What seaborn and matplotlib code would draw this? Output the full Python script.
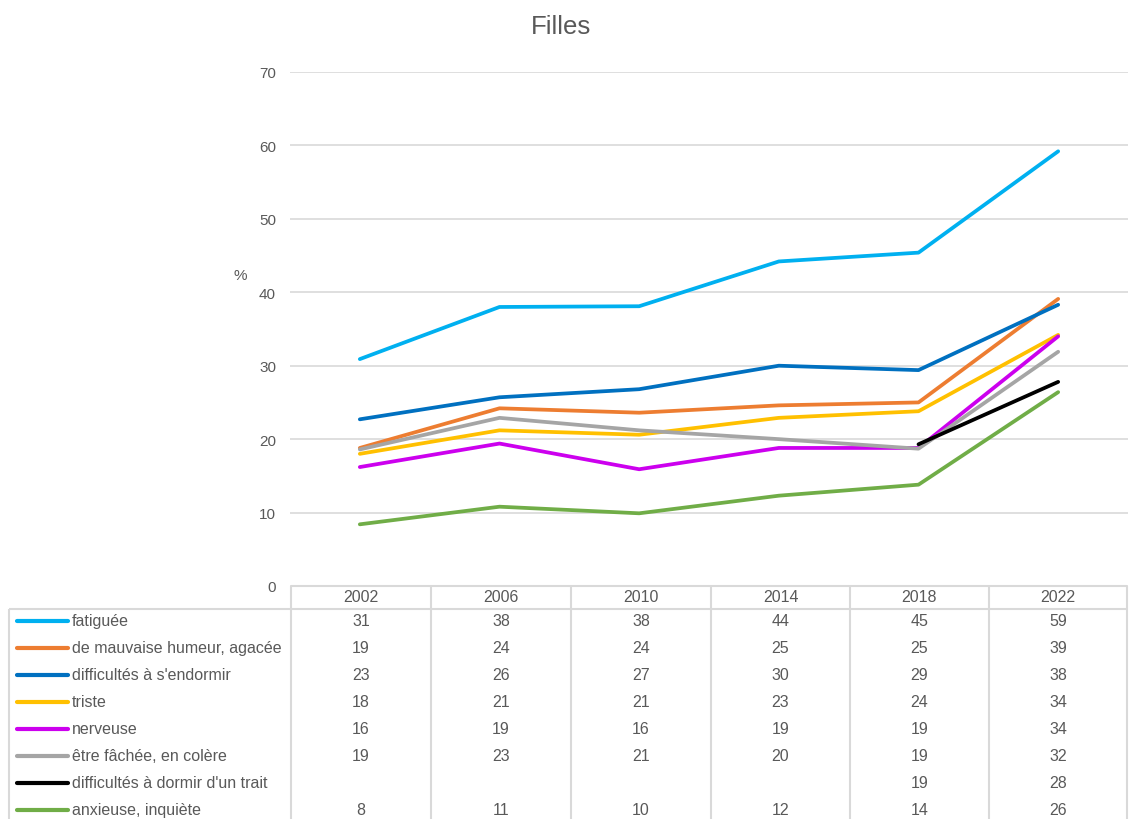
import pandas as pd
import matplotlib.pyplot as plt
import numpy as np
import seaborn as sns

# Filles - symptomes (%) par annee d'enquete

years = ['2002', '2006', '2010', '2014', '2018', '2022']

series_names = [
    'fatiguée',
    'de mauvaise humeur, agacée',
    "difficultés à s'endormir",
    'triste',
    'nerveuse',
    'être fâchée, en colère',
    "difficultés à dormir d'un trait",
    'anxieuse, inquiète',
]

fatiguee = [30.9, 38.0, 38.1, 44.2, 45.4, 59.2]
mauvaise_humeur = [18.8, 24.2, 23.6, 24.6, 25.0, 39.1]
endormir = [22.7, 25.7, 26.8, 30.0, 29.4, 38.3]
triste = [18.0, 21.2, 20.6, 22.9, 23.8, 34.2]
nerveuse = [16.2, 19.4, 15.9, 18.8, 18.8, 34.0]
fachee = [18.6, 22.9, 21.2, 20.0, 18.7, 31.9]
dormir_trait = [np.nan, np.nan, np.nan, np.nan, 19.3, 27.8]
anxieuse = [8.4, 10.8, 9.9, 12.3, 13.8, 26.4]

all_values = [fatiguee, mauvaise_humeur, endormir, triste,
              nerveuse, fachee, dormir_trait, anxieuse]

colors = ['#00b0f0', '#ed7d31', '#0070c0', '#ffc000',
          '#cc00ee', '#a5a5a5', '#000000', '#70ad47']

y_ticks = [0, 10, 20, 30, 40, 50, 60, 70]

rows = []
for name, vals in zip(series_names, all_values):
    for yr, v in zip(years, vals):
        rows.append({'annee': yr, 'serie': name, 'pct': v})
df = pd.DataFrame(rows)

sns.set_style('white')
plt.rcParams['font.family'] = ['Liberation Sans', 'DejaVu Sans']
txt_col = '#595959'
grid_col = '#d9d9d9'
fs = 11.5

W, H = 1132, 820
fig = plt.figure(figsize=(W / 100, H / 100), dpi=100)

# table layer (pixel coords)
tab = fig.add_axes([0, 0, 1, 1])
tab.set_xlim(0, W)
tab.set_ylim(H, 0)
tab.axis('off')

# main chart
x0, x1, ytop, ybot = 290, 1128, 73, 587
ax = fig.add_axes([x0 / W, (H - ybot) / H, (x1 - x0) / W, (ybot - ytop) / H])
ax.patch.set_alpha(0)

sns.lineplot(data=df, x='annee', y='pct', hue='serie', hue_order=series_names,
             palette=dict(zip(series_names, colors)), linewidth=2.7,
             legend=False, ax=ax, sort=False)

ax.set_xlim(-0.5, len(years) - 0.5)
ax.set_ylim(0, 70)
ax.set_yticks(y_ticks)
ax.set_xticks([])
ax.set_xlabel('')
ax.set_ylabel('')
ax.yaxis.grid(True, color=grid_col, linewidth=1.2)
ax.set_axisbelow(True)
for s in ax.spines.values():
    s.set_visible(False)
ax.tick_params(axis='y', length=0, pad=10, labelsize=fs - 0.5, labelcolor=txt_col)

fig.text(561 / W, 1 - 27 / H, 'Filles', ha='center', va='center',
         fontsize=18.5, color=txt_col)
fig.text(240 / W, 1 - 276 / H, '%', ha='center', va='center',
         fontsize=fs - 0.5, color=txt_col)

# data table below the chart
col_edges = [291, 431, 571, 711, 850, 989, 1127]
header_top, header_bot = 587, 610
row_h = 27
row0 = 622
line_kw = dict(color=grid_col, linewidth=1.5, solid_capstyle='butt')

tab.plot([col_edges[0], col_edges[-1]], [header_top, header_top], **line_kw)
tab.plot([9, col_edges[-1]], [header_bot, header_bot], **line_kw)
tab.plot([9, 9], [header_bot, H], **line_kw)
for xe in col_edges:
    tab.plot([xe, xe], [header_top, H], **line_kw)

for j, yr in enumerate(years):
    xc = (col_edges[j] + col_edges[j + 1]) / 2
    tab.text(xc, 598, yr, ha='center', va='center', fontsize=fs, color=txt_col)

for i, (name, vals, c) in enumerate(zip(series_names, all_values, colors)):
    yc = row0 + i * row_h
    tab.plot([17, 68], [yc, yc], color=c, linewidth=3, solid_capstyle='round')
    tab.text(72, yc, name, ha='left', va='center', fontsize=fs, color=txt_col)
    for j, v in enumerate(vals):
        if np.isnan(v):
            continue
        xc = (col_edges[j] + col_edges[j + 1]) / 2
        tab.text(xc, yc, f'{int(round(v))}', ha='center', va='center',
                 fontsize=fs, color=txt_col)

plt.savefig('out.png', dpi=100)
